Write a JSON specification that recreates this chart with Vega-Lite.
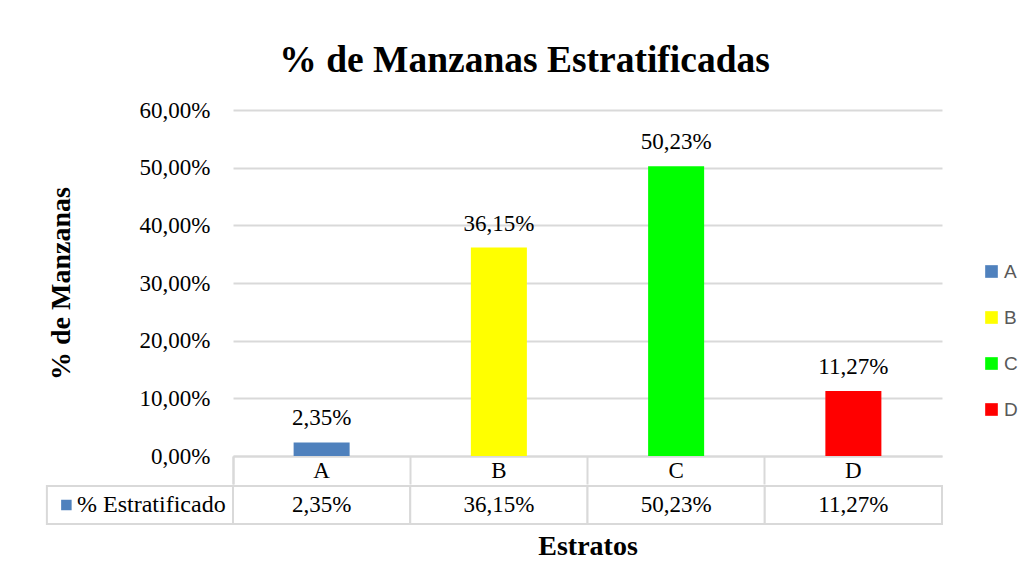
{
  "$schema": "https://vega.github.io/schema/vega-lite/v6.json",
  "padding": {"left": 45, "top": 41, "right": 5, "bottom": 5},
  "background": "white",
  "config": {
    "locale": {"number": {"decimal": ",", "thousands": ".", "grouping": [3], "currency": ["", " €"]}},
    "view": {"stroke": null},
    "font": "Liberation Serif",
    "concat": {"spacing": 0}
  },
  "title": {"text": "% de Manzanas Estratificadas", "font": "Liberation Serif", "fontSize": 37.5, "fontWeight": "bold", "color": "#000000", "anchor": "middle", "dx": -58, "offset": 20},
  "datasets": {
    "estratos": [
      {"estrato": "A", "pct": 0.0235},
      {"estrato": "B", "pct": 0.3615},
      {"estrato": "C", "pct": 0.5023},
      {"estrato": "D", "pct": 0.1127}
    ],
    "fila": [
      {"estrato": "lbl", "label": "% Estratificado"}
    ]
  },
  "vconcat": [
    {
      "width": 709,
      "height": 346,
      "data": {"name": "estratos"},
      "layer": [
        {
          "mark": {"type": "bar", "width": {"band": 0.316}},
          "encoding": {
            "x": {
              "field": "estrato", "type": "nominal",
              "scale": {"paddingInner": 0, "paddingOuter": 0},
              "axis": {
                "title": null, "orient": "bottom",
                "labelFont": "Liberation Serif", "labelFontSize": 23, "labelColor": "#000000",
                "labelAngle": 0, "labelBaseline": "middle", "labelPadding": -14,
                "bandPosition": 0, "tickExtra": true, "tickSize": 28,
                "tickColor": "#d9d9d9", "tickWidth": 2,
                "domainColor": "#d9d9d9", "domainWidth": 2, "grid": false
              }
            },
            "y": {
              "field": "pct", "type": "quantitative",
              "scale": {"domain": [0, 0.6], "nice": false},
              "axis": {
                "title": "% de Manzanas", "titleFont": "Liberation Serif", "titleFontSize": 28,
                "titleFontWeight": "bold", "titleColor": "#000000", "titlePadding": 64,
                "values": [0, 0.1, 0.2, 0.3, 0.4, 0.5, 0.6], "format": ".2%",
                "labelFont": "Liberation Serif", "labelFontSize": 23, "labelColor": "#000000",
                "labelPadding": 23, "ticks": false, "tickSize": 0, "domain": false,
                "grid": true, "gridColor": "#d9d9d9", "gridWidth": 2,
                "minExtent": 94, "maxExtent": 94
              }
            },
            "color": {
              "field": "estrato", "type": "nominal",
              "scale": {"domain": ["A", "B", "C", "D"], "range": ["#4f81bd", "#ffff00", "#00ff00", "#ff0000"]},
              "legend": {
                "title": null, "orient": "none", "legendX": 749, "legendY": 152,
                "symbolType": "square", "symbolSize": 160, "symbolStrokeWidth": 0,
                "labelFont": "Liberation Sans", "labelFontSize": 19, "labelColor": "#595959",
                "rowPadding": 26, "labelOffset": 3
              }
            }
          }
        },
        {
          "mark": {"type": "text", "baseline": "alphabetic", "dy": -17, "fontSize": 23, "font": "Liberation Serif", "color": "#000000"},
          "encoding": {
            "x": {"field": "estrato", "type": "nominal"},
            "y": {"field": "pct", "type": "quantitative"},
            "text": {"field": "pct", "type": "quantitative", "format": ".2%"}
          }
        }
      ]
    },
    {
      "width": 709,
      "height": 38,
      "layer": [
        {
          "data": {"name": "fila"},
          "mark": {"type": "rect", "fill": "white", "stroke": "#d9d9d9", "strokeWidth": 2},
          "encoding": {
            "x": {
              "field": "estrato", "type": "nominal", "bandPosition": -0.05,
              "scale": {"domain": ["lbl", "A", "B", "C", "D"], "range": [-177.25, 709], "paddingInner": 0, "paddingOuter": 0},
              "axis": {
                "title": "Estratos", "titleFont": "Liberation Serif", "titleFontSize": 28,
                "titleFontWeight": "bold", "titleColor": "#000000",
                "labels": false, "ticks": false, "domain": false, "grid": false,
                "titleX": 354.5, "titlePadding": 8
              }
            },
            "x2": {"field": "estrato", "bandPosition": 1}
          }
        },
        {
          "data": {"name": "estratos"},
          "mark": {"type": "rect", "fill": "white", "stroke": "#d9d9d9", "strokeWidth": 2},
          "encoding": {
            "x": {"field": "estrato", "type": "nominal"}
          }
        },
        {
          "data": {"name": "fila"},
          "mark": {"type": "point", "shape": "square", "filled": true, "color": "#4f81bd", "size": 110, "opacity": 1},
          "encoding": {
            "x": {"field": "estrato", "type": "nominal", "bandPosition": 0.06}
          }
        },
        {
          "data": {"name": "fila"},
          "mark": {"type": "text", "align": "left", "baseline": "middle", "fontSize": 24, "font": "Liberation Serif", "color": "#000000"},
          "encoding": {
            "x": {"field": "estrato", "type": "nominal", "bandPosition": 0.12},
            "text": {"field": "label", "type": "nominal"}
          }
        },
        {
          "data": {"name": "estratos"},
          "mark": {"type": "text", "baseline": "middle", "fontSize": 23, "font": "Liberation Serif", "color": "#000000"},
          "encoding": {
            "x": {"field": "estrato", "type": "nominal"},
            "text": {"field": "pct", "type": "quantitative", "format": ".2%"}
          }
        }
      ]
    }
  ],
  "resolve": {"scale": {"x": "independent", "y": "independent"}}
}
